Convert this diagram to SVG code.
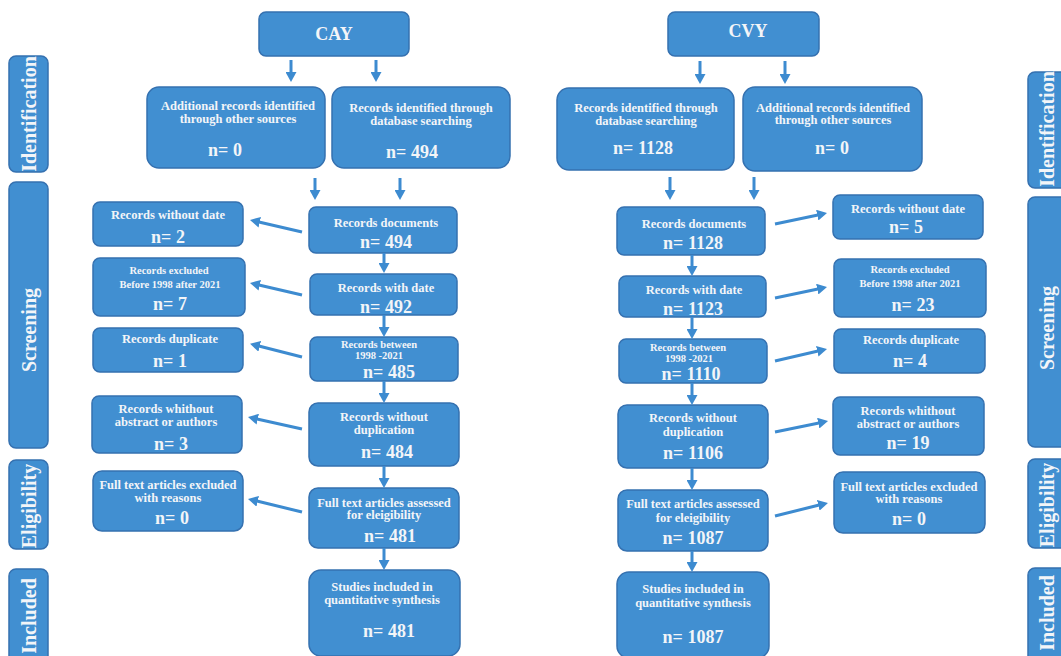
<svg xmlns="http://www.w3.org/2000/svg" width="1061" height="656" viewBox="0 0 1061 656">
<style>
.b{fill:#418fd1;stroke:#3571b0;stroke-width:1.5}
text{font-family:"Liberation Serif","Times New Roman",serif;font-weight:bold;fill:#f3f5f8;text-anchor:middle}
.h{font-size:12.5px}
.s{font-size:10.5px}
.n{font-size:18px}
.t{font-size:18px}
.lab{font-size:20px;dominant-baseline:central}
.c line{stroke:#3d8bd0;stroke-width:3;marker-end:url(#ah)}
</style>
<defs>
<marker id="ah" markerUnits="userSpaceOnUse" markerWidth="10" markerHeight="11" refX="2" refY="5.5" orient="auto">
<path d="M0,0 L10,5.5 L0,11 z" fill="#3d8bd0"/>
</marker>
</defs>
<rect width="1061" height="656" fill="#fff"/>

<g id="lab-identification-left"><rect class="b" x="9" y="56" width="39" height="116" rx="7"/><text class="lab" transform="translate(29,114) rotate(-90)">Identification</text></g>
<g id="lab-screening-left"><rect class="b" x="9" y="182" width="39" height="266" rx="7"/><text class="lab" transform="translate(29,330) rotate(-90)">Screening</text></g>
<g id="lab-eligibility-left"><rect class="b" x="9" y="460" width="39" height="89" rx="7"/><text class="lab" transform="translate(29,506) rotate(-90)">Eligibility</text></g>
<g id="lab-included-left"><rect class="b" x="9" y="569" width="39" height="100" rx="7"/><text class="lab" transform="translate(29,616) rotate(-90)">Included</text></g>

<g id="lab-identification-right"><rect class="b" x="1028" y="72" width="39" height="116" rx="7"/><text class="lab" transform="translate(1047,129) rotate(-90)">Identification</text></g>
<g id="lab-screening-right"><rect class="b" x="1028" y="197" width="39" height="250" rx="7"/><text class="lab" transform="translate(1047,328) rotate(-90)">Screening</text></g>
<g id="lab-eligibility-right"><rect class="b" x="1028" y="459" width="39" height="89" rx="7"/><text class="lab" transform="translate(1047,505) rotate(-90)">Eligibility</text></g>
<g id="lab-included-right"><rect class="b" x="1028" y="568" width="39" height="100" rx="7"/><text class="lab" transform="translate(1047,613) rotate(-90)">Included</text></g>

<!-- CAY side -->
<g id="cay"><rect class="b" x="259" y="12" width="150" height="44" rx="7"/><text class="t" x="334" y="40">CAY</text></g>
<g id="cay-other"><rect class="b" x="147" y="87" width="178" height="81" rx="12"/><text class="h" x="238" y="110">Additional records identified</text><text class="h" x="238" y="123">through other sources</text><text class="n" x="225" y="156">n= 0</text></g>
<g id="cay-db"><rect class="b" x="332" y="87" width="178" height="81" rx="12"/><text class="h" x="421" y="112">Records identified through</text><text class="h" x="421" y="125">database searching</text><text class="n" x="412" y="158">n= 494</text></g>

<g id="cay-nodate"><rect class="b" x="93" y="202" width="150" height="44" rx="7"/><text class="h" x="168" y="219">Records without date</text><text class="n" x="168" y="243">n= 2</text></g>
<g id="cay-docs"><rect class="b" x="309" y="207" width="148" height="46" rx="7"/><text class="h" x="386" y="227">Records documents</text><text class="n" x="386" y="248">n= 494</text></g>
<g id="cay-excl"><rect class="b" x="93" y="258" width="152" height="58" rx="7"/><text class="s" x="169" y="274">Records excluded</text><text class="s" x="170" y="288">Before 1998 after 2021</text><text class="n" x="170" y="310">n= 7</text></g>
<g id="cay-date"><rect class="b" x="310" y="274" width="147" height="41" rx="7"/><text class="h" x="386" y="292">Records with date</text><text class="n" x="386" y="313">n= 492</text></g>
<g id="cay-dup"><rect class="b" x="93" y="328" width="150" height="44" rx="7"/><text class="h" x="170" y="343">Records duplicate</text><text class="n" x="170" y="367">n= 1</text></g>
<g id="cay-between"><rect class="b" x="310" y="337" width="148" height="44" rx="7"/><text class="s" x="379" y="348">Records between</text><text class="s" x="379" y="359">1998 -2021</text><text class="n" x="389" y="378">n= 485</text></g>
<g id="cay-noabs"><rect class="b" x="92" y="396" width="150" height="57" rx="7"/><text class="h" x="166" y="413">Records whithout</text><text class="h" x="166" y="426">abstract or authors</text><text class="n" x="171" y="450">n= 3</text></g>
<g id="cay-nodup"><rect class="b" x="309" y="403" width="150" height="63" rx="9"/><text class="h" x="384" y="421">Records without</text><text class="h" x="384" y="434">duplication</text><text class="n" x="387" y="458">n= 484</text></g>
<g id="cay-ftexcl"><rect class="b" x="93" y="471" width="150" height="60" rx="9"/><text class="h" x="168" y="489">Full text articles excluded</text><text class="h" x="168" y="502">with reasons</text><text class="n" x="172" y="524">n= 0</text></g>
<g id="cay-ft"><rect class="b" x="309" y="488" width="150" height="60" rx="9"/><text class="h" x="384" y="507">Full text articles assessed</text><text class="h" x="384" y="519">for eleigibility</text><text class="n" x="390" y="542">n= 481</text></g>
<g id="cay-incl"><rect class="b" x="309" y="570" width="151" height="86" rx="12"/><text class="h" x="382" y="591">Studies included in</text><text class="h" x="382" y="604">quantitative synthesis</text><text class="n" x="389" y="637">n= 481</text></g>

<!-- CVY side -->
<g id="cvy"><rect class="b" x="668" y="12" width="151" height="44" rx="7"/><text class="t" x="748" y="37">CVY</text></g>
<g id="cvy-db"><rect class="b" x="557" y="88" width="177" height="82" rx="12"/><text class="h" x="646" y="112">Records identified through</text><text class="h" x="646" y="125">database searching</text><text class="n" x="643" y="154">n= 1128</text></g>
<g id="cvy-other"><rect class="b" x="743" y="87" width="179" height="84" rx="12"/><text class="h" x="833" y="112">Additional records identified</text><text class="h" x="833" y="124">through other sources</text><text class="n" x="832" y="154">n= 0</text></g>

<g id="cvy-docs"><rect class="b" x="617" y="207" width="148" height="48" rx="7"/><text class="h" x="694" y="228">Records documents</text><text class="n" x="693" y="249">n= 1128</text></g>
<g id="cvy-nodate"><rect class="b" x="833" y="195" width="150" height="44" rx="7"/><text class="h" x="908" y="213">Records without date</text><text class="n" x="906" y="233">n= 5</text></g>
<g id="cvy-date"><rect class="b" x="619" y="276" width="147" height="41" rx="7"/><text class="h" x="694" y="294">Records with date</text><text class="n" x="693" y="315">n= 1123</text></g>
<g id="cvy-excl"><rect class="b" x="834" y="259" width="152" height="58" rx="7"/><text class="s" x="910" y="273">Records excluded</text><text class="s" x="910" y="287">Before 1998 after 2021</text><text class="n" x="913" y="311">n= 23</text></g>
<g id="cvy-between"><rect class="b" x="619" y="339" width="148" height="44" rx="7"/><text class="s" x="688" y="351">Records between</text><text class="s" x="689" y="362">1998 -2021</text><text class="n" x="691" y="380">n= 1110</text></g>
<g id="cvy-dup"><rect class="b" x="834" y="329" width="151" height="44" rx="7"/><text class="h" x="911" y="344">Records duplicate</text><text class="n" x="910" y="367">n= 4</text></g>
<g id="cvy-nodup"><rect class="b" x="618" y="405" width="150" height="63" rx="9"/><text class="h" x="693" y="422">Records without</text><text class="h" x="693" y="436">duplication</text><text class="n" x="693" y="459">n= 1106</text></g>
<g id="cvy-noabs"><rect class="b" x="833" y="397" width="151" height="58" rx="7"/><text class="h" x="908" y="415">Records whithout</text><text class="h" x="908" y="428">abstract or authors</text><text class="n" x="908" y="449">n= 19</text></g>
<g id="cvy-ft"><rect class="b" x="618" y="490" width="150" height="61" rx="9"/><text class="h" x="693" y="508">Full text articles assessed</text><text class="h" x="693" y="522">for eleigibility</text><text class="n" x="693" y="544">n= 1087</text></g>
<g id="cvy-ftexcl"><rect class="b" x="834" y="472" width="151" height="61" rx="9"/><text class="h" x="909" y="491">Full text articles excluded</text><text class="h" x="909" y="503">with reasons</text><text class="n" x="909" y="525">n= 0</text></g>
<g id="cvy-incl"><rect class="b" x="617" y="572" width="152" height="86" rx="12"/><text class="h" x="693" y="593">Studies included in</text><text class="h" x="693" y="607">quantitative synthesis</text><text class="n" x="693" y="643">n= 1087</text></g>

<g id="connectors" class="c">
<line x1="291" y1="60" x2="291" y2="74"/>
<line x1="376" y1="60" x2="376" y2="74"/>
<line x1="315" y1="178" x2="315" y2="192"/>
<line x1="400" y1="178" x2="400" y2="192"/>
<line x1="384" y1="253" x2="384" y2="265"/>
<line x1="384" y1="315" x2="384" y2="329"/>
<line x1="384" y1="381" x2="384" y2="395"/>
<line x1="384" y1="466" x2="384" y2="480"/>
<line x1="384" y1="548" x2="384" y2="562"/>
<line x1="302" y1="232" x2="257.8" y2="221.8"/>
<line x1="302" y1="295" x2="257.8" y2="284.8"/>
<line x1="302" y1="357" x2="257.8" y2="345.8"/>
<line x1="302" y1="429" x2="255.8" y2="418.8"/>
<line x1="302" y1="512" x2="255.8" y2="500.8"/>

<line x1="700" y1="61" x2="700" y2="76"/>
<line x1="785" y1="61" x2="785" y2="76"/>
<line x1="670" y1="177" x2="670" y2="192"/>
<line x1="754" y1="177" x2="754" y2="192"/>
<line x1="692" y1="255" x2="692" y2="268"/>
<line x1="692" y1="317" x2="692" y2="331"/>
<line x1="692" y1="383" x2="692" y2="397"/>
<line x1="692" y1="468" x2="692" y2="482"/>
<line x1="692" y1="551" x2="692" y2="564"/>
<line x1="775" y1="224" x2="819.2" y2="214.7"/>
<line x1="775" y1="298" x2="819.2" y2="288.7"/>
<line x1="775" y1="361" x2="819.2" y2="350.8"/>
<line x1="775" y1="432" x2="820.2" y2="422.7"/>
<line x1="775" y1="516" x2="820.2" y2="504.8"/>
</g>
</svg>
